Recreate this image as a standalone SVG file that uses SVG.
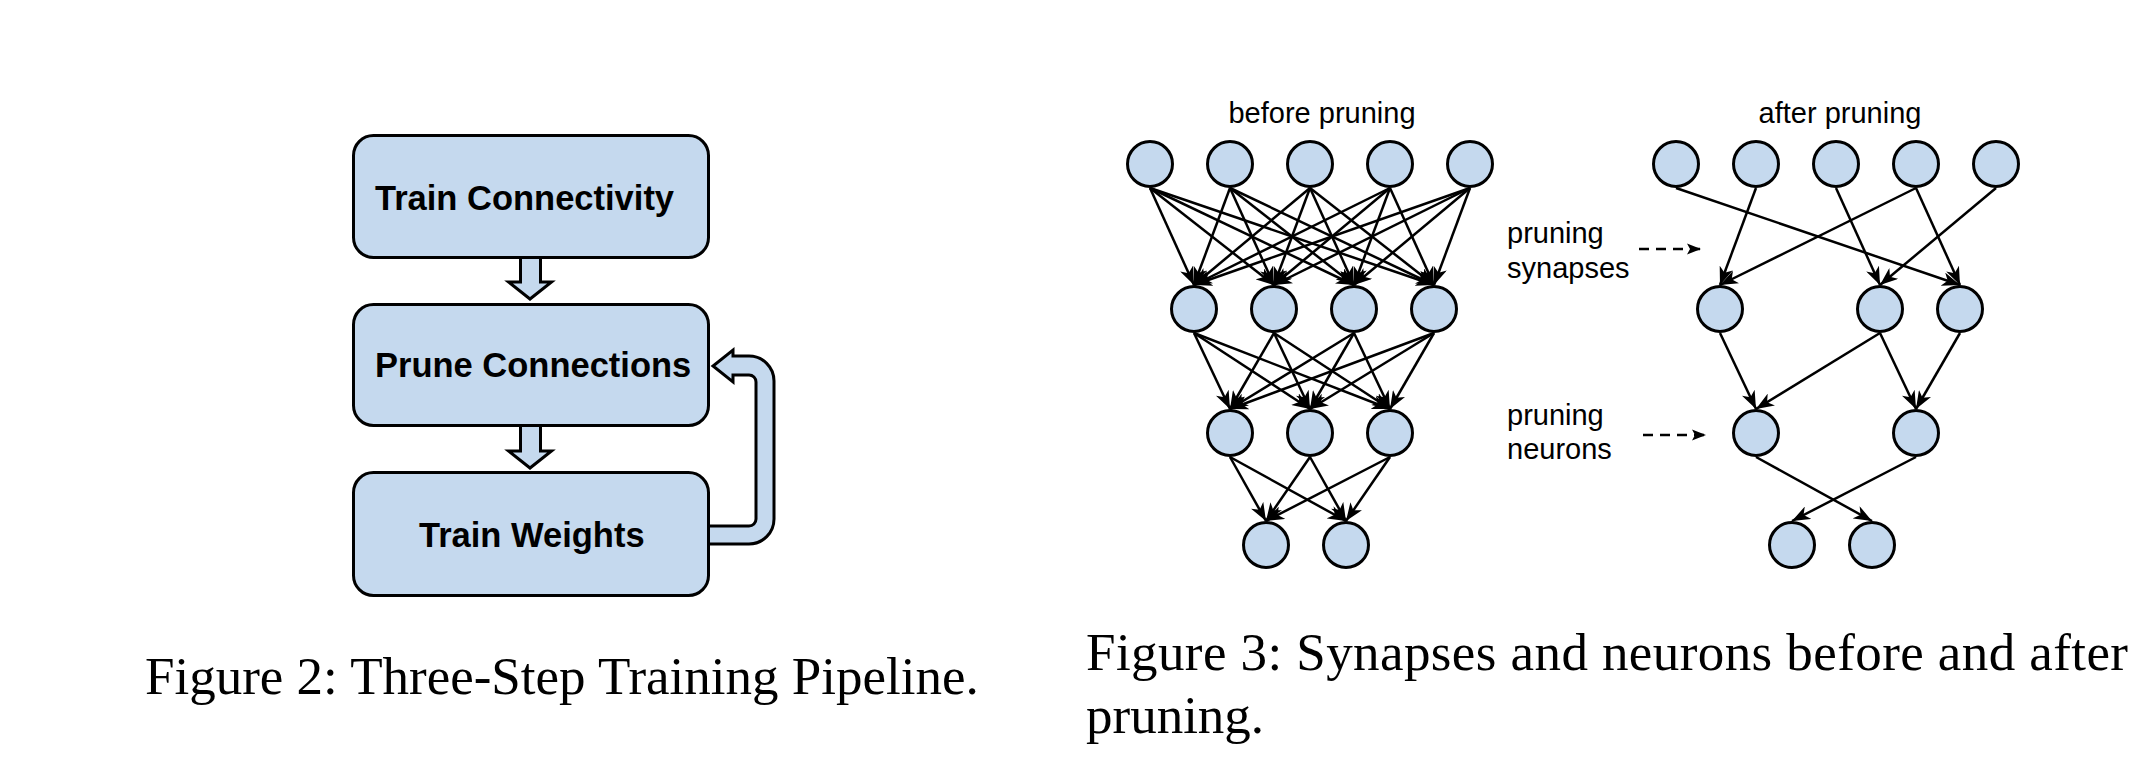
<svg xmlns="http://www.w3.org/2000/svg" width="2152" height="768" viewBox="0 0 2152 768">
<style>
.box{fill:#c5d9ee;stroke:#000;stroke-width:3}
.blk{fill:#c5d9ee;stroke:#000;stroke-width:3;stroke-linejoin:miter}
.bt{font-family:"Liberation Sans",Arial,sans-serif;font-weight:bold;font-size:34.5px;fill:#000}
.n{fill:#c5d9ee;stroke:#000;stroke-width:3}
.e{stroke:#000;stroke-width:2.5;fill:none;marker-end:url(#ah)}
.d{stroke:#000;stroke-width:2.5;fill:none;stroke-dasharray:10 7;marker-end:url(#ahs)}
.lb{font-family:"Liberation Sans",Arial,sans-serif;font-size:29px;fill:#000}
.cap{font-family:"Liberation Serif","Times New Roman",serif;font-size:53px;fill:#000}
</style>
<defs>
<marker id="ah" markerUnits="userSpaceOnUse" markerWidth="18" markerHeight="14" viewBox="0 -7 18 14" refX="18" refY="0" orient="auto">
<path d="M0,-7 L18,0 L0,7 L5,0 Z" fill="#000"/>
</marker>
<marker id="ahs" markerUnits="userSpaceOnUse" markerWidth="14" markerHeight="12" viewBox="0 -6 14 12" refX="14" refY="0" orient="auto">
<path d="M0,-5.5 L14,0 L0,5.5 L3,0 Z" fill="#000"/>
</marker>
</defs>
<rect width="2152" height="768" fill="#fff"/>

<!-- Figure 2 -->
<g id="fig2-connectors">
<path class="blk" d="M520.5,257 V282 H508.5 L530,299 L551.5,282 H540.5 V257"/>
<path class="blk" d="M520.5,426 V451 H508.5 L530,468 L551.5,451 H540.5 V426"/>
<path class="blk" d="M708,544 H749 A25,25 0 0 0 774,519 V381 A25,25 0 0 0 749,356 H733 V350 L713,366 L733,382 V375 H749 A7,7 0 0 1 756,382 V519 A7,7 0 0 1 749,526 H708"/>
</g>
<g id="train-connectivity">
<rect class="box" x="353.5" y="135.5" width="355" height="122" rx="20"/>
<text class="bt" x="375" y="210">Train Connectivity</text>
</g>
<g id="prune-connections">
<rect class="box" x="353.5" y="304.5" width="355" height="121" rx="20"/>
<text class="bt" x="375" y="377">Prune Connections</text>
</g>
<g id="train-weights">
<rect class="box" x="353.5" y="472.5" width="355" height="123" rx="20"/>
<text class="bt" x="419" y="547">Train Weights</text>
</g>

<!-- Figure 3 connectors -->
<g id="connectors">
<!-- before: layer1 -> layer2 -->
<line class="e" x1="1150" y1="188" x2="1194" y2="285"/>
<line class="e" x1="1150" y1="188" x2="1274" y2="285"/>
<line class="e" x1="1150" y1="188" x2="1354" y2="285"/>
<line class="e" x1="1150" y1="188" x2="1434" y2="285"/>
<line class="e" x1="1230" y1="188" x2="1194" y2="285"/>
<line class="e" x1="1230" y1="188" x2="1274" y2="285"/>
<line class="e" x1="1230" y1="188" x2="1354" y2="285"/>
<line class="e" x1="1230" y1="188" x2="1434" y2="285"/>
<line class="e" x1="1310" y1="188" x2="1194" y2="285"/>
<line class="e" x1="1310" y1="188" x2="1274" y2="285"/>
<line class="e" x1="1310" y1="188" x2="1354" y2="285"/>
<line class="e" x1="1310" y1="188" x2="1434" y2="285"/>
<line class="e" x1="1390" y1="188" x2="1194" y2="285"/>
<line class="e" x1="1390" y1="188" x2="1274" y2="285"/>
<line class="e" x1="1390" y1="188" x2="1354" y2="285"/>
<line class="e" x1="1390" y1="188" x2="1434" y2="285"/>
<line class="e" x1="1470" y1="188" x2="1194" y2="285"/>
<line class="e" x1="1470" y1="188" x2="1274" y2="285"/>
<line class="e" x1="1470" y1="188" x2="1354" y2="285"/>
<line class="e" x1="1470" y1="188" x2="1434" y2="285"/>
<!-- before: layer2 -> layer3 -->
<line class="e" x1="1194" y1="333" x2="1230" y2="409"/>
<line class="e" x1="1194" y1="333" x2="1310" y2="409"/>
<line class="e" x1="1194" y1="333" x2="1390" y2="409"/>
<line class="e" x1="1274" y1="333" x2="1230" y2="409"/>
<line class="e" x1="1274" y1="333" x2="1310" y2="409"/>
<line class="e" x1="1274" y1="333" x2="1390" y2="409"/>
<line class="e" x1="1354" y1="333" x2="1230" y2="409"/>
<line class="e" x1="1354" y1="333" x2="1310" y2="409"/>
<line class="e" x1="1354" y1="333" x2="1390" y2="409"/>
<line class="e" x1="1434" y1="333" x2="1230" y2="409"/>
<line class="e" x1="1434" y1="333" x2="1310" y2="409"/>
<line class="e" x1="1434" y1="333" x2="1390" y2="409"/>
<!-- before: layer3 -> layer4 -->
<line class="e" x1="1230" y1="457" x2="1266" y2="521"/>
<line class="e" x1="1230" y1="457" x2="1346" y2="521"/>
<line class="e" x1="1310" y1="457" x2="1266" y2="521"/>
<line class="e" x1="1310" y1="457" x2="1346" y2="521"/>
<line class="e" x1="1390" y1="457" x2="1266" y2="521"/>
<line class="e" x1="1390" y1="457" x2="1346" y2="521"/>
<!-- after -->
<line class="e" x1="1676" y1="188" x2="1960" y2="285"/>
<line class="e" x1="1756" y1="188" x2="1720" y2="285"/>
<line class="e" x1="1836" y1="188" x2="1880" y2="285"/>
<line class="e" x1="1916" y1="188" x2="1720" y2="285"/>
<line class="e" x1="1916" y1="188" x2="1960" y2="285"/>
<line class="e" x1="1996" y1="188" x2="1880" y2="285"/>
<line class="e" x1="1720" y1="333" x2="1756" y2="409"/>
<line class="e" x1="1880" y1="333" x2="1756" y2="409"/>
<line class="e" x1="1880" y1="333" x2="1916" y2="409"/>
<line class="e" x1="1960" y1="333" x2="1916" y2="409"/>
<line class="e" x1="1756" y1="457" x2="1872" y2="521"/>
<line class="e" x1="1916" y1="457" x2="1792" y2="521"/>
<!-- dashed indicators -->
<line class="d" x1="1639" y1="249" x2="1701" y2="249"/>
<line class="d" x1="1643" y1="435" x2="1706" y2="435"/>
</g>

<!-- before pruning nodes -->
<g id="before-label"><text class="lb" x="1322" y="123" text-anchor="middle">before pruning</text></g>
<g id="b1-1"><circle class="n" cx="1150" cy="164" r="22.5"/></g>
<g id="b1-2"><circle class="n" cx="1230" cy="164" r="22.5"/></g>
<g id="b1-3"><circle class="n" cx="1310" cy="164" r="22.5"/></g>
<g id="b1-4"><circle class="n" cx="1390" cy="164" r="22.5"/></g>
<g id="b1-5"><circle class="n" cx="1470" cy="164" r="22.5"/></g>
<g id="b2-1"><circle class="n" cx="1194" cy="309" r="22.5"/></g>
<g id="b2-2"><circle class="n" cx="1274" cy="309" r="22.5"/></g>
<g id="b2-3"><circle class="n" cx="1354" cy="309" r="22.5"/></g>
<g id="b2-4"><circle class="n" cx="1434" cy="309" r="22.5"/></g>
<g id="b3-1"><circle class="n" cx="1230" cy="433" r="22.5"/></g>
<g id="b3-2"><circle class="n" cx="1310" cy="433" r="22.5"/></g>
<g id="b3-3"><circle class="n" cx="1390" cy="433" r="22.5"/></g>
<g id="b4-1"><circle class="n" cx="1266" cy="545" r="22.5"/></g>
<g id="b4-2"><circle class="n" cx="1346" cy="545" r="22.5"/></g>

<!-- labels -->
<g id="label-synapses"><text class="lb" x="1507" y="243">pruning</text><text class="lb" x="1507" y="278">synapses</text></g>
<g id="label-neurons"><text class="lb" x="1507" y="425">pruning</text><text class="lb" x="1507" y="459">neurons</text></g>

<!-- after pruning nodes -->
<g id="after-label"><text class="lb" x="1840" y="123" text-anchor="middle">after pruning</text></g>
<g id="a1-1"><circle class="n" cx="1676" cy="164" r="22.5"/></g>
<g id="a1-2"><circle class="n" cx="1756" cy="164" r="22.5"/></g>
<g id="a1-3"><circle class="n" cx="1836" cy="164" r="22.5"/></g>
<g id="a1-4"><circle class="n" cx="1916" cy="164" r="22.5"/></g>
<g id="a1-5"><circle class="n" cx="1996" cy="164" r="22.5"/></g>
<g id="a2-1"><circle class="n" cx="1720" cy="309" r="22.5"/></g>
<g id="a2-2"><circle class="n" cx="1880" cy="309" r="22.5"/></g>
<g id="a2-3"><circle class="n" cx="1960" cy="309" r="22.5"/></g>
<g id="a3-1"><circle class="n" cx="1756" cy="433" r="22.5"/></g>
<g id="a3-2"><circle class="n" cx="1916" cy="433" r="22.5"/></g>
<g id="a4-1"><circle class="n" cx="1792" cy="545" r="22.5"/></g>
<g id="a4-2"><circle class="n" cx="1872" cy="545" r="22.5"/></g>

<!-- captions -->
<g id="caption-fig2"><text class="cap" x="145" y="694">Figure 2: Three-Step Training Pipeline.</text></g>
<g id="caption-fig3">
<text class="cap" x="1086" y="670" textLength="1042" lengthAdjust="spacing">Figure 3: Synapses and neurons before and after</text>
<text class="cap" x="1086" y="733">pruning.</text>
</g>
</svg>
